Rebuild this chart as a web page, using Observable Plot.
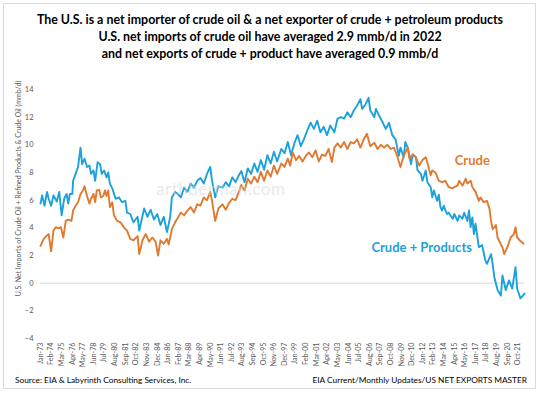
<!DOCTYPE html>
<html><head><meta charset="utf-8">
<script src="https://cdn.jsdelivr.net/npm/d3@7"></script>
<script src="https://cdn.jsdelivr.net/npm/@observablehq/plot@0.6"></script>
<style>
html,body{margin:0;padding:0;background:#fff;}
#wrap{position:relative;width:540px;height:393px;overflow:hidden;font-family:Lato,"Open Sans",sans-serif;}
#frame{position:absolute;left:3px;top:3px;width:533px;height:386px;border:1px solid #d9d9d9;box-sizing:border-box;}
#title{position:absolute;left:0;top:11px;width:540px;text-align:center;font-weight:bold;font-size:12.4px;line-height:17px;color:#000;}
#chart{position:absolute;left:0;top:62px;}
#wm{position:absolute;left:156px;top:178px;font-size:17px;color:#d8d8d8;opacity:.55;letter-spacing:.5px;}
.foot{position:absolute;top:375px;font-size:8.3px;color:#000;white-space:nowrap;}
</style></head><body>
<div id="wrap">
<div id="frame"></div>
<div id="title"></div>
<div id="chart"></div>
<div id="wm"></div>
<div class="foot" id="src" style="left:15px"></div>
<div class="foot" id="file" style="right:13px"></div>
</div>
<script>
const titleLines = [
  "The U.S. is a net importer of crude oil & a net exporter of crude + petroleum products",
  "U.S. net imports of crude oil have averaged 2.9 mmb/d in 2022",
  "and net exports of crude + product have averaged 0.9 mmb/d"
];
const yAxisTitle = "U.S. Net Imports of Crude Oil + Refined Products & Crude Oil (mmb/d)";
const sourceText = "Source: EIA & Labyrinth Consulting Services, Inc.";
const fileText = "EIA Current/Monthly Updates/US NET EXPORTS MASTER";
const watermark = "arthberman.com";

const tickLabels = ["Jan-73","Feb-74","Mar-75","Apr-76","May-77","Jun-78","Jul-79","Aug-80","Sep-81","Oct-82",
  "Nov-83","Dec-84","Jan-86","Feb-87","Mar-88","Apr-89","May-90","Jun-91","Jul-92","Aug-93",
  "Sep-94","Oct-95","Nov-96","Dec-97","Jan-99","Feb-00","Mar-01","Apr-02","May-03","Jun-04",
  "Jul-05","Aug-06","Sep-07","Oct-08","Nov-09","Dec-10","Jan-12","Feb-13","Mar-14","Apr-15",
  "May-16","Jun-17","Jul-18","Aug-19","Sep-20","Oct-21"];
const yTicks = [-4,-2,0,2,4,6,8,10,12,14];

const seriesNames = ["Crude", "Crude + Products"];

const totalMonths = [
  "1973-01","1973-03","1973-06","1973-09","1973-11","1974-02","1974-05","1974-09","1974-12","1975-03",
  "1975-06","1975-09","1975-11","1976-01","1976-04","1976-05","1976-08","1976-11","1977-02","1977-04",
  "1977-07","1977-10","1978-01","1978-03","1978-06","1978-08","1978-11","1979-02","1979-04","1979-07",
  "1979-10","1979-12","1980-02","1980-05","1980-09","1981-01","1981-05","1981-09","1981-11","1982-03",
  "1982-07","1982-12","1983-02","1983-08","1983-12","1984-04","1984-08","1984-12","1985-04","1985-08",
  "1985-12","1986-04","1986-06","1986-10","1987-01","1987-05","1987-09","1988-01","1988-05","1988-09",
  "1989-01","1989-05","1989-09","1990-01","1990-05","1990-07","1990-11","1991-03","1991-08","1991-12",
  "1992-04","1992-08","1992-12","1993-04","1993-07","1993-11","1994-03","1994-07","1994-11","1995-03",
  "1995-07","1995-11","1996-03","1996-07","1996-11","1997-03","1997-08","1997-12","1998-04","1998-08",
  "1998-12","1999-04","1999-08","1999-12","2000-05","2000-08","2000-12","2001-04","2001-08","2001-12",
  "2002-04","2002-08","2003-01","2003-05","2003-09","2004-01","2004-05","2004-09","2005-01","2005-05",
  "2005-09","2005-11","2006-03","2006-07","2006-09","2007-02","2007-04","2007-08","2007-12","2008-04",
  "2008-08","2008-12","2009-04","2009-08","2009-10","2010-02","2010-04","2010-07","2010-11","2011-01",
  "2011-05","2011-07","2011-11","2012-01","2012-05","2012-07","2012-11","2013-01","2013-03","2013-07",
  "2013-09","2013-11","2014-01","2014-03","2014-07","2014-09","2015-02","2015-04","2015-08","2015-10",
  "2016-02","2016-04","2016-08","2016-10","2016-12","2017-02","2017-04","2017-06","2017-10","2018-02",
  "2018-06","2018-08","2019-01","2019-03","2019-05","2019-09","2020-01","2020-03","2020-07","2020-11",
  "2021-03","2021-07","2021-09","2021-11","2022-01","2022-04","2022-06"];
const totalValues = [
  5.75,6.35,5.6,6.6,6.1,5.6,6.35,5.9,6.6,4.9,
  6.1,6.45,5.75,6.45,6.45,7.4,7.9,8.4,9.8,8.6,
  9.0,8.4,8.5,7.9,8.15,7.4,8.75,8.6,7.9,8.15,
  7.65,8.0,7.2,6.85,6.1,6.2,5.85,5.95,5.1,5.0,
  4.4,4.8,3.8,5.4,4.8,5.3,4.6,5.0,4.2,4.8,
  3.7,4.8,6.2,6.6,6.45,6.2,6.9,6.6,7.2,6.9,
  7.4,7.6,7.2,7.9,8.4,7.5,6.2,7.0,6.9,7.3,
  7.0,7.65,7.3,7.8,8.1,7.3,8.3,7.9,8.65,8.05,
  8.9,8.2,9.25,8.65,9.5,8.8,9.7,9.4,10.2,9.25,
  10.1,10.7,9.9,10.45,11.2,11.6,11.15,11.75,10.9,11.3,
  10.7,11.4,10.9,11.9,12.0,11.9,12.35,12.0,12.5,12.85,
  13.3,12.6,12.9,13.4,12.5,12.0,12.6,12.1,11.65,11.15,
  11.6,10.7,10.4,9.2,9.8,9.1,10.2,9.8,8.6,9.3,
  9.1,8.15,7.9,7.4,8.15,7.3,6.95,6.2,6.7,5.95,
  6.4,5.5,5.25,5.6,5.0,5.1,4.65,5.0,4.5,4.9,
  4.65,5.1,4.5,5.25,4.05,4.75,3.55,4.3,2.6,2.75,
  1.65,1.4,2.1,1.4,0.45,-0.5,-0.9,0.55,-0.5,0.2,
  -0.4,1.15,-0.4,-0.75,-1.1,-0.9,-0.75];

const crudeMonths = [
  "1973-01","1973-05","1973-09","1973-11","1974-02","1974-05","1974-08","1974-11","1975-02","1975-05",
  "1975-08","1975-11","1976-03","1976-05","1976-08","1976-11","1977-02","1977-05","1977-07","1977-10",
  "1978-01","1978-03","1978-06","1978-08","1978-10","1979-01","1979-03","1979-06","1979-08","1979-10",
  "1979-12","1980-02","1980-05","1980-07","1980-11","1981-03","1981-07","1981-11","1982-03","1982-07",
  "1982-12","1983-02","1983-06","1983-10","1984-02","1984-06","1984-10","1985-01","1985-04","1985-08",
  "1985-12","1986-02","1986-06","1986-10","1987-05","1987-09","1988-01","1988-05","1988-09","1989-01",
  "1989-05","1989-09","1990-01","1990-05","1990-07","1990-11","1991-03","1991-08","1991-12","1992-04",
  "1992-08","1992-12","1993-04","1993-07","1993-11","1994-03","1994-07","1994-11","1995-03","1995-07",
  "1995-11","1996-03","1996-07","1996-11","1997-03","1997-08","1997-12","1998-04","1998-07","1998-10",
  "1999-02","1999-06","1999-10","2000-02","2000-06","2000-10","2001-02","2001-06","2001-10","2002-02",
  "2002-06","2002-10","2003-01","2003-05","2003-09","2004-01","2004-05","2004-09","2005-01","2005-05",
  "2005-09","2006-01","2006-05","2006-09","2007-02","2007-06","2007-10","2008-02","2008-06","2008-10",
  "2009-02","2009-06","2009-10","2010-02","2010-04","2010-07","2010-09","2011-01","2011-05","2011-09",
  "2012-01","2012-05","2012-07","2012-11","2013-01","2013-05","2013-09","2014-01","2014-05","2014-09",
  "2015-02","2015-04","2015-08","2015-10","2016-02","2016-06","2016-08","2016-12","2017-02","2017-06",
  "2017-10","2017-12","2018-04","2018-08","2018-11","2019-01","2019-03","2019-07","2019-09","2020-01",
  "2020-03","2020-05","2020-09","2021-01","2021-05","2021-07","2021-09","2022-01","2022-05"];
const crudeValues = [
  2.7,3.2,3.45,3.55,2.3,3.8,4.05,3.95,4.05,3.3,
  4.5,4.6,4.5,5.25,5.6,5.85,6.45,6.7,7.0,6.3,
  5.75,6.1,6.45,5.85,6.7,6.75,6.2,6.3,6.7,6.3,
  6.7,5.5,5.85,4.9,4.5,4.4,4.05,3.8,3.2,3.1,
  3.4,2.1,3.1,3.55,3.0,3.3,3.0,2.0,3.1,2.85,
  3.2,2.8,3.9,4.4,5.1,4.9,5.25,5.5,5.1,5.7,
  5.6,6.2,6.0,6.6,6.0,4.5,5.4,5.7,5.3,5.8,
  6.1,6.0,6.6,7.1,6.7,7.55,7.2,7.7,7.3,8.05,
  7.4,8.15,7.7,8.5,7.9,8.65,8.4,9.0,8.5,9.45,
  8.9,9.2,8.8,9.2,9.45,9.1,9.6,8.8,9.3,9.2,
  9.7,8.75,9.8,10.1,9.8,10.2,9.7,10.2,10.1,10.4,
  9.8,10.4,10.8,9.9,10.15,9.7,10.0,9.8,10.0,9.7,
  9.8,9.2,8.4,9.2,9.45,9.8,9.0,9.3,9.1,8.5,
  8.9,9.1,8.7,7.8,8.15,8.0,7.4,7.3,7.4,6.95,
  6.85,6.95,7.05,7.4,7.05,7.55,7.2,7.4,6.95,6.6,
  5.95,6.2,5.85,5.95,5.4,4.5,3.9,4.2,3.3,2.8,
  2.6,2.1,2.6,3.3,3.55,4.05,3.3,3.05,2.85];

// series label anchors (month, value)
const labelMonths = ["2017-02", "2011-12"];
const labelValues = [8.87, 2.58];

const xDomainMonths = ["1973-01", "2022-06"];
const colors = {"Crude": "#E07A30", "Crude + Products": "#1CA1DA"};

// ---------- build ----------
const monthNames = ["Jan","Feb","Mar","Apr","May","Jun","Jul","Aug","Sep","Oct","Nov","Dec"];
const parseMonth = s => { const [y, m] = s.split("-").map(Number); return new Date(Date.UTC(y, m - 1, 1)); };
const parseTick = s => { const [m, y] = s.split("-"); const yy = +y; return new Date(Date.UTC(yy < 50 ? 2000 + yy : 1900 + yy, monthNames.indexOf(m), 1)); };
const tickDates = tickLabels.map(parseTick);
const tickMap = new Map(tickDates.map((d, i) => [+d, tickLabels[i]]));

const totalData = totalMonths.map((m, i) => ({date: parseMonth(m), value: totalValues[i]})).filter(d => d.value != null);
const crudeData = crudeMonths.map((m, i) => ({date: parseMonth(m), value: crudeValues[i]})).filter(d => d.value != null);
const labelData = seriesNames.map((n, i) => ({name: n, date: parseMonth(labelMonths[i]), value: labelValues[i]}));

document.getElementById("title").innerHTML = titleLines.map(t => `<div>${t.replace(/&/g, "&amp;")}</div>`).join("");
document.getElementById("src").textContent = sourceText;
document.getElementById("file").textContent = fileText;
document.getElementById("wm").textContent = watermark;

const chart = Plot.plot({
  width: 540, height: 310,
  marginLeft: 40, marginRight: 16, marginTop: 27, marginBottom: 34,
  style: {fontFamily: "Lato, 'Open Sans', sans-serif", background: "transparent", overflow: "visible"},
  x: {type: "utc", domain: xDomainMonths.map(parseMonth)},
  y: {domain: [yTicks[0], yTicks[yTicks.length - 1]]},
  marks: [
    Plot.axisY({ticks: yTicks, tickSize: 0, tickPadding: 7, fontSize: 7.5, fill: "#595959", label: null}),
    Plot.axisX({ticks: tickDates, tickFormat: d => tickMap.get(+d), tickRotate: -90, tickSize: 0, tickPadding: 4, fontSize: 7.2, fill: "#595959", label: null}),
    Plot.ruleY([0], {stroke: "#d9d9d9", strokeWidth: 1}),
    Plot.line(totalData, {x: "date", y: "value", stroke: colors["Crude + Products"], strokeWidth: 1.9}),
    Plot.line(crudeData, {x: "date", y: "value", stroke: colors["Crude"], strokeWidth: 1.9}),
    Plot.text(labelData, {x: "date", y: "value", text: "name", fill: d => colors[d.name], fontWeight: "bold", fontSize: 13, textAnchor: "middle"}),
    Plot.text([yAxisTitle], {frameAnchor: "left", textAnchor: "middle", dx: -21.5, dy: -25.5, rotate: -90, fontSize: 7, fill: "#595959"})
  ]
});
document.getElementById("chart").appendChild(chart);
</script>
</body></html>
